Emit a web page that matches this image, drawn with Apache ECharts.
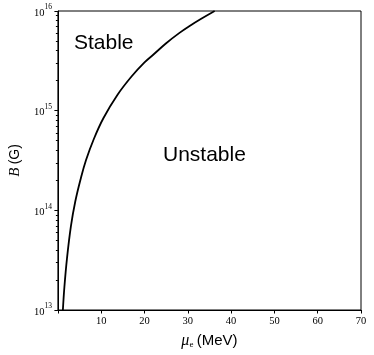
<!DOCTYPE html>
<html>
<head>
<meta charset="utf-8">
<script src="https://cdn.jsdelivr.net/npm/echarts@6/dist/echarts.min.js"></script>
<style>
  html, body { margin: 0; padding: 0; background: #fff; }
  #chart { width: 374px; height: 355px; }
</style>
</head>
<body>
<div id="chart"></div>
<script>
// Stability boundary
const muValues = [1.15, 1.5, 2.1, 3.0, 4.0, 5.3, 6.5, 8.3, 10.5, 13.7, 17, 20, 22.2, 25, 28, 30.6, 33, 36.2];
const bValues = [1.0e13, 1.7e13, 3.3e13, 6.9e13, 1.22e14, 2.1e14, 3.2e14, 5.2e14, 8.4e14, 1.43e15,
                 2.2e15, 3.05e15, 3.7e15, 4.75e15, 6.0e15, 7.15e15, 8.3e15, 1.0e16];
const xTicks = [10, 20, 30, 40, 50, 60, 70];
const decades = [13, 14, 15];
const mantissas = [2, 3, 4, 5, 6, 7, 8, 9];

// minor ticks in log10 space (drawn on a hidden linear axis 13..16)
const minorTicks = decades.flatMap(d => mantissas.map(m => d + Math.log10(m)));

const SERIF = '"Liberation Serif", "DejaVu Serif", serif';
const SANS = '"Liberation Sans", Arial, sans-serif';

const chart = echarts.init(document.getElementById('chart'));

const option = {
    animation: false,
    grid: { left: 52, right: 13, top: 11, bottom: 45, show: true, borderColor: '#000', borderWidth: 1 },
    xAxis: {
        type: 'value', min: 0, max: 70, interval: 10,
        axisLine: { lineStyle: { color: '#000', width: 1 } },
        axisTick: { inside: false, length: 3.5, lineStyle: { color: '#000' } },
        splitLine: { show: false },
        axisLabel: {
            margin: 6, color: '#000', fontFamily: SERIF, fontSize: 10.5,
            formatter: v => (xTicks.includes(v) ? String(v) : '')
        },
        name: '{m|μ}{s|e} {t|(MeV)}',
        nameLocation: 'middle', nameGap: 23,
        nameTextStyle: {
            rich: {
                m: { fontFamily: SERIF, fontStyle: 'italic', fontSize: 16, color: '#000' },
                s: { fontFamily: SERIF, fontSize: 9, color: '#000', verticalAlign: 'bottom', lineHeight: 14 },
                t: { fontFamily: SANS, fontSize: 15, color: '#000' }
            }
        }
    },
    yAxis: [{
        type: 'log', logBase: 10, min: 1e13, max: 1e16, interval: 1,
        axisLine: { show: true, lineStyle: { color: '#000', width: 1 } },
        axisTick: { show: true, length: 3.5, lineStyle: { color: '#000' } },
        splitLine: { show: false },
        axisLabel: {
            margin: 6, color: '#000',
            formatter: v => '{a|10}{b|' + Math.round(Math.log10(v)) + '}',
            rich: {
                a: { fontFamily: SERIF, fontSize: 10.5, lineHeight: 15, verticalAlign: 'bottom', color: '#000' },
                b: { fontFamily: SERIF, fontSize: 7.5, lineHeight: 8, verticalAlign: 'top', color: '#000' }
            }
        },
        name: '{m|B} {t|(G)}',
        nameLocation: 'middle', nameGap: 34,
        nameTextStyle: {
            rich: {
                m: { fontFamily: SERIF, fontStyle: 'italic', fontSize: 15, color: '#000' },
                t: { fontFamily: SANS, fontSize: 14, color: '#000' }
            }
        }
    }, {
        type: 'value', min: 13, max: 16, position: 'left',
        axisLine: { show: false },
        axisTick: { show: true, length: 2, customValues: minorTicks, lineStyle: { color: '#000' } },
        axisLabel: { show: false },
        splitLine: { show: false }
    }],
    series: [{
        type: 'line',
        yAxisIndex: 0,
        data: muValues.map((m, i) => [m, bValues[i]]),
        smooth: 0.4,
        showSymbol: false,
        lineStyle: { color: '#000', width: 1.8 }
    }],
    graphic: [
        { type: 'text', left: 74, top: 33, style: { text: 'Stable', font: '21px ' + SANS, fill: '#000' } },
        { type: 'text', left: 163, top: 145, style: { text: 'Unstable', font: '21px ' + SANS, fill: '#000' } }
    ]
};

chart.setOption(option);
window.addEventListener('resize', () => chart.resize());
</script>
</body>
</html>
